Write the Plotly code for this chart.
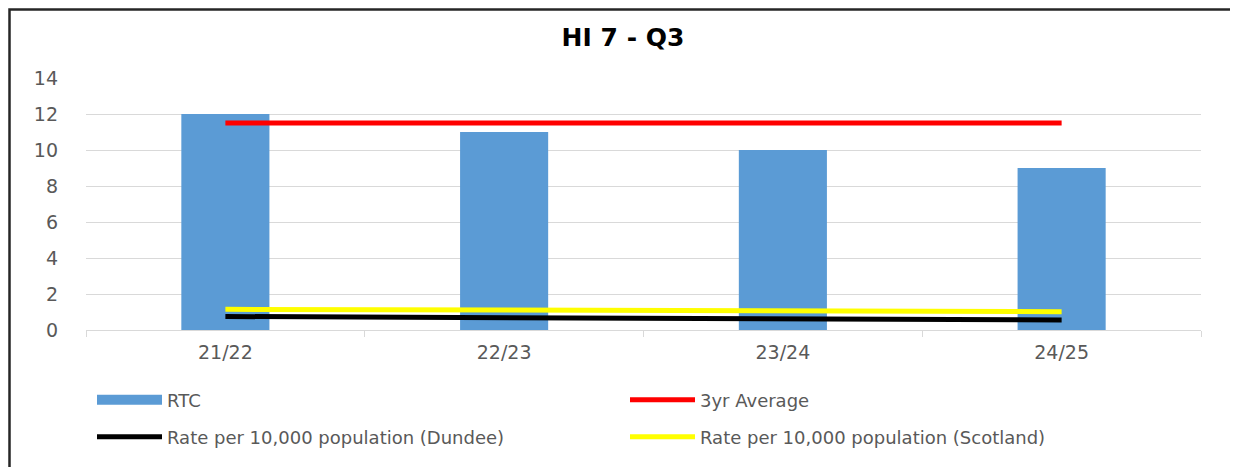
import plotly.graph_objects as go

categories = ["21/22", "22/23", "23/24", "24/25"]
rtc = [12, 11, 10, 9]
avg_3yr = [11.5, 11.5, 11.5, 11.5]
rate_dundee = [0.75, 0.7, 0.62, 0.56]
rate_scotland = [1.15, 1.1, 1.02, 1.02]

OFF = 8  # page body margin
W, H = 1238 - OFF, 467 - OFF
L, R, T, B = 86 - OFF, 37, 78 - OFF, 137
pw, ph = W - L - R, H - T - B

def px_x(sx):
    return (sx - OFF - L) / pw

def px_y(sy):
    return (H - B - (sy - OFF)) / ph

BLUE = "#5B9BD5"
fig = go.Figure()
fig.add_trace(go.Bar(x=categories, y=rtc, name="RTC", marker=dict(color=BLUE, line=dict(width=0)),
                     showlegend=False))
# legend entry for the bars (wide rectangle swatch like the original)
fig.add_trace(go.Scatter(x=[None], y=[None], name="RTC", mode="lines",
                         line=dict(color=BLUE, width=12), legend="legend"))
fig.add_trace(go.Scatter(x=categories, y=avg_3yr, name="3yr Average", mode="lines",
                         line=dict(color="#FF0000", width=5), legend="legend"))
fig.add_trace(go.Scatter(x=categories, y=rate_dundee, name="Rate per 10,000 population (Dundee)", mode="lines",
                         line=dict(color="#000000", width=5), legend="legend2"))
fig.add_trace(go.Scatter(x=categories, y=rate_scotland, name="Rate per 10,000 population (Scotland)", mode="lines",
                         line=dict(color="#FFFF00", width=5), legend="legend2"))

font_family = "DejaVu Sans, sans-serif"
legend_common = dict(orientation="h", xanchor="left", yanchor="middle",
                     entrywidth=453, entrywidthmode="pixels", itemwidth=65,
                     font=dict(family=font_family, size=18, color="#595959"),
                     bgcolor="rgba(0,0,0,0)", borderwidth=0)
fig.update_layout(
    width=W, height=H,
    margin=dict(l=L, r=R, t=T, b=B, autoexpand=False),
    paper_bgcolor="white", plot_bgcolor="white",
    bargap=0.684,
    title=dict(text="<b>HI 7 - Q3</b>", x=0.5, xanchor="center", y=1 - (37 - OFF) / H, yanchor="middle",
               font=dict(family="DejaVu Sans, Liberation Sans, Arial", size=25, color="#000000")),
    xaxis=dict(type="category", showgrid=False, showline=True, linecolor="#D9D9D9", linewidth=1,
               ticks="outside", tickson="boundaries", ticklen=6, tickcolor="#D9D9D9",
               ticklabelstandoff=5,
               tickfont=dict(family=font_family, size=19, color="#595959")),
    yaxis=dict(range=[0, 14], dtick=2, showgrid=True, gridcolor="#D9D9D9", gridwidth=1,
               zeroline=False, showline=False, ticks="", ticklabelstandoff=27,
               tickfont=dict(family=font_family, size=19, color="#595959")),
    legend=dict(x=px_x(92), y=px_y(400), **legend_common),
    legend2=dict(x=px_x(92), y=px_y(437), **legend_common),
    showlegend=True,
)

fig.add_shape(type="rect", xref="paper", yref="paper",
              x0=px_x(OFF + 1.5), x1=px_x(1234), y0=px_y(500), y1=px_y(OFF + 1.5),
              line=dict(color="#262626", width=2.5), fillcolor="rgba(0,0,0,0)", layer="below")

fig.write_html("out.html")
